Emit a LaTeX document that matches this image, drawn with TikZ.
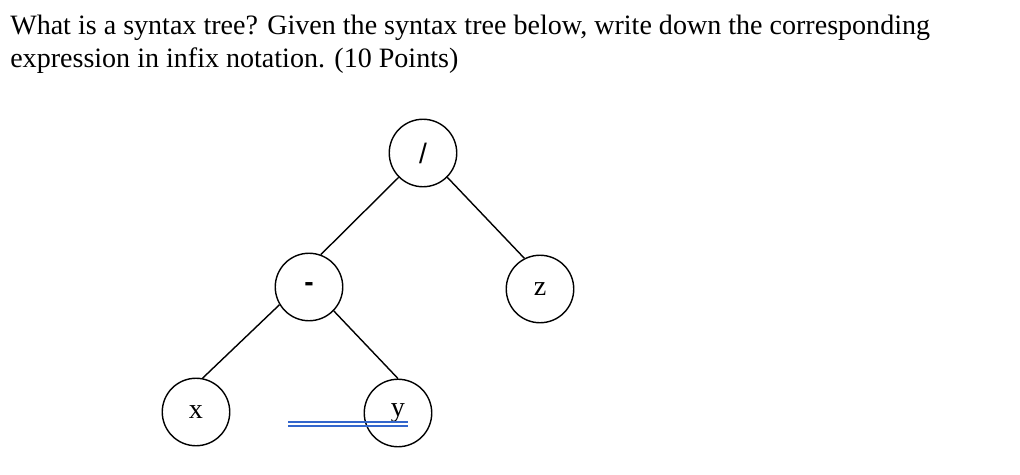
\documentclass[tikz,border=0pt]{standalone}
\usepackage{fontspec}
\setmainfont{Liberation Serif}
\setsansfont{Liberation Sans}
\definecolor{linkblue}{HTML}{3366CC}
\tikzstyle{op} = [circle, draw, line width=1pt, minimum size=48pt, inner sep=0pt, font=\fontsize{20}{24}\selectfont]
\tikzstyle{edge} = [line width=1pt]

\begin{document}
\begin{tikzpicture}[x=0.025cm, y=-0.025cm]
	\useasboundingbox (0,0) rectangle (1020,474);
	\node[anchor=north west, inner sep=0pt, align=left,
		font=\fontsize{19.95}{23.4}\selectfont] (title) at (10,15)
		{What is a syntax tree? Given the syntax tree below, write down the corresponding\\
		expression in infix notation. (10 Points)};
	% the tree
	\node[op, font=\sffamily\fontsize{20}{24}\selectfont] (div) at (423,153) {/};
	\node[op, font=\sffamily\bfseries\fontsize{20}{24}\selectfont] (minus) at (309,287) {-};
	\node[op] (z) at (540,289) {z};
	\node[op] (x) at (196,412) {x};
	\node[op] (y) at (398,413) {y};
	\draw[edge] (div.225) -- (minus.70);
	\draw[edge] (div.315) -- (z.117);
	\draw[edge] (minus.211) -- (x.79);
	\draw[edge] (minus.316) -- (y.90);
	% blue mark under y
	\coordinate (m1) at (288,422);
	\coordinate (m2) at (408,422);
	\coordinate (m3) at (288,426);
	\coordinate (m4) at (408,426);
	\draw[linkblue, line width=1pt] (m1) -- (m2);
	\draw[linkblue, line width=1pt] (m3) -- (m4);
\end{tikzpicture}
\end{document}
